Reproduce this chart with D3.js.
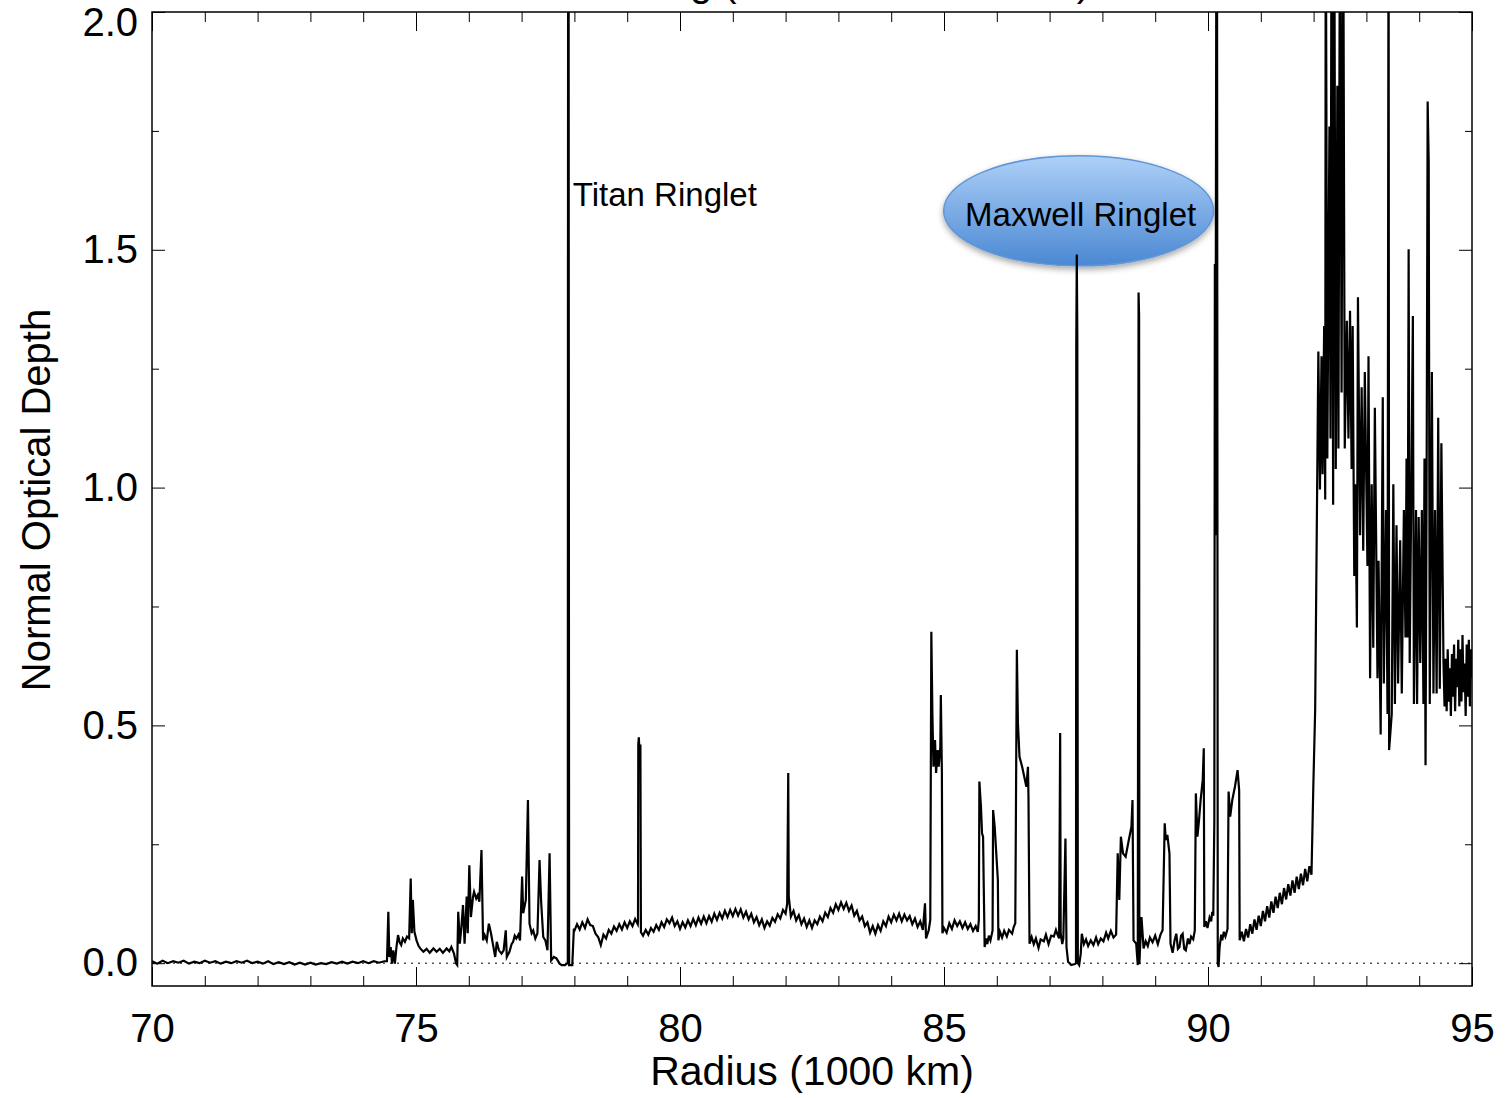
<!DOCTYPE html>
<html>
<head>
<meta charset="utf-8">
<script src="https://cdn.jsdelivr.net/npm/d3@7"></script>
<style>
body { margin: 0; background: #fff; }
svg { display: block; font-family: "Liberation Sans", Arial, Helvetica, sans-serif; }
</style>
</head>
<body>
<svg id="chart"></svg>
<script>
// optical depth profile, [radius (1000 km), normal optical depth]
const innerFlat = [[70.0,.004],[70.1,-.001],[70.2,.005],[70.3,.000],[70.4,.004],[70.5,.001],[70.6,.005],[70.7,-.001],[70.8,.003],[70.9,.000],
  [71.0,.005],[71.1,.001],[71.2,.004],[71.3,-.001],[71.4,.003],[71.5,.000],[71.6,.004],[71.7,.001],[71.8,.005],[71.9,.000],
  [72.0,.003],[72.1,-.001],[72.2,.004],[72.3,-.002],[72.4,.002],[72.5,-.002],[72.6,.002],[72.7,-.003],[72.8,.001],[72.9,-.003],
  [73.0,.001],[73.1,-.003],[73.2,.000],[73.3,-.002],[73.4,.002],[73.5,-.001],[73.6,.003],[73.7,-.001],[73.8,.003],[73.9,.000],
  [74.0,.004],[74.1,.000],[74.2,.004],[74.3,.001],[74.4,.004]];

const rampInner = [[74.45,0.004],[74.476,0.108],[74.495,0.013],[74.52,0.034],[74.546,-0.001],[74.57,0.027],[74.60,-0.001],[74.63,0.034],
  [74.66,0.059],[74.69,0.044],[74.72,0.038],[74.75,0.052],[74.79,0.045],[74.83,0.056],[74.87,0.052],[74.90,0.178],[74.92,0.063],
  [74.94,0.133],[74.97,0.066],[75.01,0.048],[75.05,0.036],[75.08,0.031],[75.14,0.024],[75.20,0.030],[75.26,0.022],[75.33,0.031],
  [75.39,0.024],[75.45,0.030],[75.51,0.022],[75.58,0.031],[75.63,0.025],[75.67,0.034],[75.72,0.020],[75.76,-0.001],[75.78,-0.004],
  [75.80,0.108],[75.83,0.041],[75.86,0.076],[75.89,0.122],[75.92,0.041],[75.96,0.140],[75.98,0.063],[76.01,0.206],[76.04,0.097],
  [76.08,0.140],[76.10,0.150],[76.14,0.136],[76.17,0.143],[76.20,0.129],[76.24,0.238],[76.27,0.048],[76.30,0.059],[76.34,0.048],
  [76.38,0.083],[76.42,0.063],[76.46,0.038],[76.50,0.013],[76.53,0.045],[76.57,0.027],[76.62,0.020],[76.66,0.027],[76.70,0.069],
  [76.72,0.013],[76.77,0.024],[76.81,0.040],[76.84,0.045],[76.87,0.058],[76.90,0.052],[76.94,0.060],[76.97,0.048],[77.01,0.182],
  [77.03,0.105],[77.08,0.133],[77.12,0.343],[77.15,0.083],[77.19,0.063],[77.22,0.069],[77.26,0.052],[77.30,0.063],[77.34,0.217],
  [77.37,0.129],[77.41,0.055],[77.45,0.048],[77.49,0.027],[77.53,0.231],[77.56,0.006],[77.61,0.013],[77.66,0.010],[77.72,-0.001],
  [77.76,-0.004],[77.82,-0.004],[77.86,-0.001]];

const titanRinglet = [[77.875,0.0],[77.878,1.45],[77.882,2.30],[77.890,2.30],[77.893,1.45],[77.90,-0.004],[77.96,-0.004],[77.99,0.073]];

const midRing = [[78.00,0.068],[78.05,0.082],[78.10,0.071],[78.15,0.086],[78.20,0.074],[78.25,0.092],[78.30,0.080],[78.35,0.078],
  [78.40,0.062],[78.45,0.055],[78.50,0.038],[78.55,0.060],[78.60,0.052],[78.65,0.070],[78.70,0.062],[78.75,0.077],[78.80,0.068],
  [78.85,0.082],[78.90,0.071],[78.95,0.086],[79.00,0.074],[79.05,0.088],[79.10,0.078],[79.15,0.093],[79.20,0.082],[79.205,0.09],
  [79.21,0.46],[79.22,0.475],[79.235,0.44],[79.25,0.46],[79.26,0.065],[79.30,0.058],[79.35,0.070],[79.40,0.060],[79.45,0.074],
  [79.50,0.066],[79.55,0.080],[79.60,0.070],[79.65,0.086],[79.70,0.076],[79.75,0.092],[79.80,0.084],[79.85,0.096],[79.90,0.078],
  [79.95,0.088],[80.00,0.072],[80.05,0.086],[80.10,0.075],[80.15,0.090],[80.20,0.078],[80.25,0.093],[80.30,0.080],[80.35,0.096],
  [80.40,0.083],[80.45,0.098],[80.50,0.084],[80.55,0.099],[80.60,0.087],[80.65,0.104],[80.70,0.091],[80.75,0.106],[80.80,0.094],
  [80.85,0.110],[80.90,0.097],[80.95,0.112],[81.00,0.099],[81.05,0.114],[81.10,0.100],[81.15,0.113],[81.20,0.096],[81.25,0.108],
  [81.30,0.092],[81.35,0.104],[81.40,0.086],[81.45,0.097],[81.50,0.080],[81.55,0.092],[81.60,0.074],[81.65,0.088],[81.70,0.079],
  [81.75,0.095],[81.80,0.087],[81.85,0.103],[81.90,0.094],[81.95,0.112],[82.00,0.104],[82.03,0.125],[82.05,0.40],[82.06,0.14],
  [82.10,0.098],[82.15,0.110],[82.20,0.090],[82.25,0.101],[82.30,0.082],[82.35,0.094],[82.40,0.076],[82.45,0.090],[82.50,0.074],
  [82.55,0.090],[82.60,0.082],[82.65,0.098],[82.70,0.088],[82.75,0.106],[82.80,0.097],[82.85,0.116],[82.90,0.106],[82.95,0.124],
  [83.00,0.112],[83.05,0.128],[83.10,0.114],[83.15,0.127],[83.20,0.110],[83.25,0.121],[83.30,0.100],[83.35,0.110],[83.40,0.090],
  [83.45,0.098],[83.50,0.078],[83.55,0.086],[83.60,0.064],[83.65,0.078],[83.70,0.062],[83.75,0.080],[83.80,0.068],[83.85,0.088],
  [83.90,0.078],[83.95,0.098],[84.00,0.086],[84.05,0.102],[84.10,0.090],[84.15,0.104],[84.20,0.088],[84.25,0.102],[84.30,0.090],
  [84.35,0.099],[84.40,0.082],[84.45,0.094],[84.50,0.076],[84.55,0.088],[84.60,0.070],[84.64,0.126],[84.66,0.052],[84.71,0.069],
  [84.74,0.091]];

const plateaus = [[84.76,0.697],[84.78,0.526],[84.80,0.413],[84.83,0.469],[84.85,0.40],[84.88,0.448],[84.90,0.413],[84.93,0.455],
  [84.94,0.564],[84.96,0.40],[84.97,0.063],[85.00,0.074],[85.05,0.064],[85.10,0.084],[85.15,0.072],[85.20,0.090],[85.25,0.078],
  [85.30,0.088],[85.35,0.074],[85.40,0.086],[85.45,0.072],[85.50,0.082],[85.55,0.068],[85.60,0.078],[85.64,0.066],[85.66,0.091],
  [85.67,0.382],[85.70,0.329],[85.72,0.273],[85.74,0.266],[85.75,0.182],[85.77,0.034],[85.80,0.052],[85.82,0.040],[85.85,0.058],
  [85.88,0.048],[85.92,0.069],[85.93,0.322],[85.96,0.287],[85.99,0.231],[86.02,0.175],[86.03,0.048],[86.06,0.066],[86.10,0.054],
  [86.14,0.068],[86.19,0.056],[86.23,0.070],[86.29,0.062],[86.32,0.076],[86.35,0.084],[86.38,0.659],[86.40,0.505],[86.43,0.434],
  [86.48,0.413],[86.52,0.392],[86.56,0.371],[86.59,0.413],[86.60,0.350],[86.62,0.041],[86.66,0.055],[86.70,0.040],[86.74,0.052],
  [86.79,0.032],[86.83,0.050],[86.89,0.046],[86.93,0.060],[86.98,0.040],[87.03,0.058],[87.08,0.056],[87.12,0.070],[87.15,0.060],
  [87.18,0.052],[87.20,0.484],[87.21,0.062],[87.24,0.040],[87.26,0.052],[87.30,0.262],[87.32,0.034],[87.35,0.003],[87.41,-0.004],
  [87.48,-0.002]];

const maxwellRinglet = [[87.50,0.0],[87.505,1.30],[87.515,1.49],[87.525,1.32],[87.535,0.0],[87.56,-0.004],[87.59,0.020]];

const outerPlateaus = [[87.61,0.062],[87.65,0.040],[87.69,0.050],[87.73,0.036],[87.78,0.048],[87.83,0.038],[87.88,0.054],
  [87.92,0.040],[87.97,0.052],[88.02,0.046],[88.07,0.064],[88.11,0.052],[88.16,0.068],[88.21,0.054],[88.26,0.060],[88.29,0.231],
  [88.32,0.133],[88.35,0.266],[88.39,0.231],[88.44,0.224],[88.50,0.259],[88.55,0.287],[88.57,0.343],[88.59,0.048],[88.64,0.041],
  [88.67,-0.004],[88.685,1.41],[88.695,1.36],[88.70,-0.002],[88.74,0.097],[88.78,0.031],[88.82,0.046],[88.86,0.036],[88.90,0.054],
  [88.95,0.044],[89.00,0.058],[89.05,0.040],[89.10,0.060],[89.14,0.069],[89.18,0.294],[89.20,0.259],[89.23,0.27],[89.27,0.231],
  [89.29,0.041],[89.33,0.022],[89.37,0.050],[89.40,0.062],[89.43,0.030],[89.46,0.034],[89.49,0.058],[89.52,0.062],[89.55,0.030],
  [89.58,0.027],[89.62,0.052],[89.65,0.040],[89.68,0.056],[89.72,0.050],[89.75,0.069],[89.77,0.357],[89.80,0.266],[89.83,0.301],
  [89.86,0.343],[89.90,0.385],[89.92,0.452],[89.93,0.076],[89.96,0.088],[89.99,0.074],[90.03,0.096],[90.06,0.088],[90.08,0.108],
  [90.10,0.100],[90.12,0.30],[90.13,1.47],[90.14,0.90],[90.16,2.30],[90.17,2.30],[90.185,0.0],[90.20,-0.008],[90.22,0.034],
  [90.25,0.060],[90.27,0.048],[90.30,0.066],[90.33,0.056],[90.37,0.072],[90.39,0.361],[90.42,0.308],[90.46,0.343],[90.51,0.371],
  [90.56,0.406],[90.59,0.364],[90.60,0.048],[90.64,0.066],[90.68,0.046],[90.72,0.072],[90.76,0.054],[90.80,0.082],[90.84,0.062],
  [90.88,0.092],[90.92,0.070],[90.96,0.100],[91.00,0.078],[91.04,0.110],[91.08,0.088],[91.12,0.120],[91.16,0.096],[91.20,0.130],
  [91.24,0.106],[91.28,0.140],[91.32,0.116],[91.36,0.148],[91.40,0.124],[91.44,0.158],[91.48,0.134],[91.52,0.166],[91.56,0.142],
  [91.60,0.174],[91.64,0.148],[91.68,0.182],[91.72,0.156],[91.76,0.188],[91.80,0.164],[91.84,0.198],[91.88,0.172],[91.92,0.204],
  [91.96,0.186]];

const rampOuter = [[91.995,0.373],[92.03,0.535],[92.06,0.910],[92.09,1.286],[92.12,0.996],[92.15,1.276],[92.17,1.028],[92.20,1.340],
  [92.22,0.975],[92.23,2.30],[92.26,1.061],[92.30,1.759],[92.32,1.103],[92.34,2.30],[92.37,0.964],[92.39,2.30],[92.42,1.039],
  [92.45,1.845],[92.47,1.082],[92.50,2.30],[92.53,1.20],[92.56,2.30],[92.59,1.082],[92.63,1.351],[92.66,1.103],[92.69,1.372],
  [92.72,1.039],[92.74,1.340],[92.77,0.814],[92.79,1.007],[92.82,0.706],[92.84,1.40],[92.85,1.276],[92.88,0.900],[92.91,1.211],
  [92.94,0.867],[92.97,1.243],[93.02,0.835],[93.04,1.276],[93.07,0.599],[93.10,1.007],[93.13,0.663],[93.16,1.168],[93.21,0.599],
  [93.23,0.846],[93.27,0.481],[93.31,1.19],[93.33,0.588],[93.37,0.953],[93.40,0.524],[93.42,2.30],[93.43,0.448],[93.48,0.524],
  [93.51,1.007],[93.54,0.545],[93.57,0.921],[93.60,0.588],[93.64,0.889],[93.67,0.567],[93.71,0.953],[93.74,0.685],[93.76,1.061],
  [93.78,0.685],[93.80,1.501],[93.82,0.631],[93.84,0.867],[93.88,1.361],[93.90,0.545],[93.94,0.953],[93.96,0.545],[93.99,0.938],
  [94.02,0.631],[94.05,0.953],[94.08,0.545],[94.10,1.061],[94.12,0.416],[94.14,0.996],[94.16,1.812],[94.18,1.684],[94.20,0.545],
  [94.24,1.243],[94.27,0.567],[94.30,0.953],[94.33,0.567],[94.36,1.147],[94.39,0.577],[94.42,1.093],[94.46,0.631],
  [94.48,0.54],[94.50,0.64],[94.52,0.53],[94.54,0.66],[94.56,0.55],[94.58,0.62],[94.60,0.52],[94.62,0.65],[94.64,0.56],[94.66,0.67],
  [94.68,0.53],[94.70,0.64],[94.72,0.58],[94.74,0.68],[94.76,0.54],[94.78,0.66],[94.80,0.55],[94.82,0.69],[94.84,0.57],[94.86,0.63],
  [94.88,0.52],[94.90,0.67],[94.92,0.56],[94.94,0.68],[94.96,0.54],[94.98,0.66],[95.0,0.60]];

const xTicks = [70, 75, 80, 85, 90, 95];
const xMinorTicks = [71, 72, 73, 74, 76, 77, 78, 79, 81, 82, 83, 84, 86, 87, 88, 89, 91, 92, 93, 94];
const yTicks = [0.0, 0.5, 1.0, 1.5, 2.0];
const yMinorTicks = [0.25, 0.75, 1.25, 1.75];

const chartTitle = "C Ring (Cassini RSS Rev 7)";
const xTitle = "Radius (1000 km)";
const yTitle = "Normal Optical Depth";
const labels = [{text: "Titan Ringlet", r: 77.97, tau: 1.592, bubble: false},
                {text: "Maxwell Ringlet", r: 87.55, tau: 1.582, bubble: true}];

let profile = [].concat(innerFlat, rampInner, titanRinglet, midRing, plateaus, maxwellRinglet, outerPlateaus, rampOuter);

let width = 1507, height = 1098;
let plot = {left: 152, right: 1472, top: 12, bottom: 986};

let svg = d3.select("#chart")
  .attr("width", width)
  .attr("height", height);

let x = d3.scaleLinear().domain([70, 95]).range([plot.left, plot.right]);
let y = d3.scaleLinear().domain([-0.048, 2.0]).range([plot.bottom, plot.top]);

let defs = svg.append("defs");
defs.append("clipPath").attr("id", "clip")
  .append("rect")
  .attr("x", plot.left).attr("y", plot.top)
  .attr("width", plot.right - plot.left).attr("height", plot.bottom - plot.top);

let grad = defs.append("linearGradient").attr("id", "bubbleFill")
  .attr("x1", 0).attr("y1", 0).attr("x2", 0).attr("y2", 1);
grad.append("stop").attr("offset", "0%").attr("stop-color", "#aed0f7");
grad.append("stop").attr("offset", "100%").attr("stop-color", "#4a88d3");

let shadow = defs.append("filter").attr("id", "shadow")
  .attr("x", "-20%").attr("y", "-20%").attr("width", "140%").attr("height", "150%");
shadow.append("feDropShadow")
  .attr("dx", 0).attr("dy", 3).attr("stdDeviation", 3)
  .attr("flood-color", "#000").attr("flood-opacity", 0.35);

// title, mostly outside the top of the page (as in the original)
svg.append("text")
  .attr("x", 1090)
  .attr("y", -4)
  .attr("text-anchor", "end")
  .style("font-size", "40px")
  .text(chartTitle);

// zero line
svg.append("line")
  .attr("x1", x(70)).attr("x2", x(95))
  .attr("y1", y(0)).attr("y2", y(0))
  .attr("stroke", "#000")
  .attr("stroke-width", 1)
  .attr("stroke-dasharray", "2,5");

// annotation bubble under the data
labels.filter(d => d.bubble).forEach(function(d) {
  svg.append("ellipse")
    .attr("cx", x(d.r))
    .attr("cy", y(d.tau))
    .attr("rx", 135)
    .attr("ry", 55)
    .attr("fill", "url(#bubbleFill)")
    .attr("stroke", "#6096d6")
    .attr("stroke-width", 1.5)
    .attr("filter", "url(#shadow)");
});

let line = d3.line()
  .x(d => x(d[0]))
  .y(d => y(d[1]));

svg.append("path")
  .datum(profile)
  .attr("clip-path", "url(#clip)")
  .attr("fill", "none")
  .attr("stroke", "#000")
  .attr("stroke-width", 2.2)
  .attr("stroke-linejoin", "miter")
  .attr("d", line);

labels.forEach(function(d) {
  svg.append("text")
    .attr("x", d.bubble ? x(d.r) + 2 : x(d.r))
    .attr("y", d.bubble ? y(d.tau) + 15 : y(d.tau))
    .attr("text-anchor", d.bubble ? "middle" : "start")
    .style("font-size", "33px")
    .attr("fill", "#000")
    .text(d.text);
});

// axes: ticks point inward on all four sides
function styleAxis(g) {
  g.select(".domain").remove();
  g.selectAll(".tick line").attr("stroke", "#000").attr("stroke-width", 1);
  g.selectAll(".tick text").style("font-size", "40px").attr("fill", "#000")
    .style("font-family", "'Liberation Sans', Arial, Helvetica, sans-serif");
}

svg.append("g").attr("transform", "translate(0," + plot.bottom + ")")
  .call(d3.axisBottom(x).tickValues(xTicks).tickSize(-19).tickPadding(28).tickFormat(d3.format("d")))
  .call(styleAxis);
svg.append("g").attr("transform", "translate(0," + plot.bottom + ")")
  .call(d3.axisBottom(x).tickValues(xMinorTicks).tickSize(-10).tickFormat(""))
  .call(styleAxis);
svg.append("g").attr("transform", "translate(0," + plot.top + ")")
  .call(d3.axisTop(x).tickValues(xTicks).tickSize(-19).tickFormat(""))
  .call(styleAxis);
svg.append("g").attr("transform", "translate(0," + plot.top + ")")
  .call(d3.axisTop(x).tickValues(xMinorTicks).tickSize(-10).tickFormat(""))
  .call(styleAxis);

let yAxisLeft = svg.append("g").attr("transform", "translate(" + plot.left + ",0)")
  .call(d3.axisLeft(y).tickValues(yTicks).tickSize(-13).tickPadding(14).tickFormat(d3.format(".1f")))
  .call(styleAxis);
// the top label sits a little lower so it stays on the page
yAxisLeft.selectAll(".tick text").filter(d => d === 2.0).attr("y", 11);

svg.append("g").attr("transform", "translate(" + plot.left + ",0)")
  .call(d3.axisLeft(y).tickValues(yMinorTicks).tickSize(-7).tickFormat(""))
  .call(styleAxis);
svg.append("g").attr("transform", "translate(" + plot.right + ",0)")
  .call(d3.axisRight(y).tickValues(yTicks).tickSize(-13).tickFormat(""))
  .call(styleAxis);
svg.append("g").attr("transform", "translate(" + plot.right + ",0)")
  .call(d3.axisRight(y).tickValues(yMinorTicks).tickSize(-7).tickFormat(""))
  .call(styleAxis);

// plot frame
svg.append("rect")
  .attr("x", plot.left).attr("y", plot.top)
  .attr("width", plot.right - plot.left).attr("height", plot.bottom - plot.top)
  .attr("fill", "none")
  .attr("stroke", "#000")
  .attr("stroke-width", 1.5);

// axis titles
svg.append("text")
  .attr("x", (plot.left + plot.right) / 2)
  .attr("y", 1085)
  .attr("text-anchor", "middle")
  .style("font-size", "41px")
  .text(xTitle);

svg.append("text")
  .attr("transform", "translate(50,500) rotate(-90)")
  .attr("text-anchor", "middle")
  .style("font-size", "40px")
  .text(yTitle);
</script>
</body>
</html>
